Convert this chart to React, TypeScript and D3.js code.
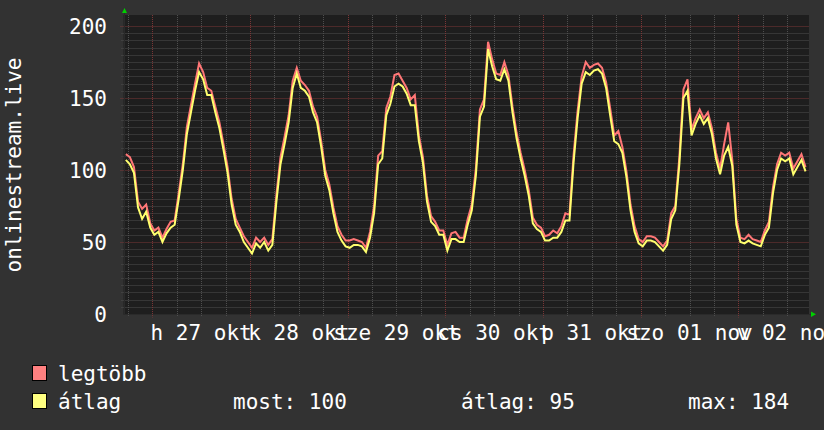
import React from "react";
import * as d3 from "d3";

// hours relative to Mon 27 Oct 00:00, sampled hourly starting at -6.5h
const startHour = -6.5;
const avgValues = [
  107, 104, 98, 74, 66, 71, 60,
  55, 57, 50, 56, 60, 62, 80, 100, 125, 140, 155, 168, 163, 152, 152, 140, 129, 114, 98, 76, 62, 57, 50, 46,
  42, 49, 46, 50, 44, 48, 78, 104, 118, 133, 157, 167, 157, 155, 151, 140, 133, 116, 96, 86, 70, 57, 51, 47,
  46, 48, 48, 47, 43, 53, 70, 104, 108, 138, 146, 158, 160, 158, 153, 145, 145, 120, 105, 78, 64, 61, 55, 55,
  44, 52, 52, 50, 50, 62, 72, 96, 137, 144, 184, 172, 163, 162, 170, 162, 140, 122, 108, 96, 82, 63, 59, 57,
  51, 51, 53, 53, 57, 65, 65, 105, 136, 160, 168, 166, 169, 170, 167, 157, 138, 120, 118, 112, 95, 72, 57, 49,
  47, 51, 51, 50, 47, 44, 48, 66, 72, 104, 150, 155, 124, 132, 138, 132, 136, 125, 108, 97, 110, 116, 103, 62,
  50, 49, 51, 49, 48, 47, 55, 60, 84, 100, 108, 106, 108, 97, 102, 107, 99,
];
const maxValues = [
  111, 109, 102, 78, 73, 76, 63,
  58, 60, 53, 59, 64, 65, 84, 104, 130, 145, 160, 174, 168, 157, 155, 144, 133, 118, 102, 80, 66, 60, 54, 50,
  46, 53, 50, 53, 48, 52, 83, 109, 123, 138, 162, 171, 162, 159, 155, 144, 137, 120, 100, 90, 74, 61, 55, 51,
  51, 52, 51, 50, 46, 57, 75, 110, 113, 143, 151, 166, 167, 162, 157, 149, 152, 124, 109, 82, 68, 64, 58, 58,
  48, 56, 57, 53, 53, 66, 76, 101, 142, 149, 189, 177, 167, 166, 175, 166, 144, 126, 112, 100, 86, 67, 62, 60,
  54, 55, 58, 56, 61, 70, 69, 110, 141, 165, 175, 171, 173, 174, 171, 161, 143, 124, 127, 116, 99, 76, 61, 52,
  50, 54, 54, 53, 50, 47, 51, 70, 75, 109, 156, 163, 128, 136, 142, 136, 140, 129, 112, 101, 118, 133, 107, 66,
  53, 52, 55, 52, 51, 50, 58, 64, 88, 104, 112, 110, 112, 101, 106, 111, 102,
];
const dayLabels = ["h 27 okt", "k 28 okt", "sze 29 okt", "cs 30 okt", "p 31 okt", "szo 01 nov", "v 02 nov"];
const yTicks = [0, 50, 100, 150, 200];
const yTitle = "onlinestream.live";
const seriesNames = ["legtöbb", "átlag"];
const statLabels = ["most: 100", "átlag: 95", "max: 184"];

const W = 824;
const H = 430;
const FONT = "'DejaVu Sans Mono', monospace";

export default function App() {
  const x = d3.scaleLinear().domain([-6.8, 161.4]).range([124.6, 809.2]);
  const y = d3.scaleLinear().domain([0, 200]).range([314, 26]);
  const left = 123.5;
  const right = 809;
  const top = 15;
  const bottom = 314.5;

  const pts = (vals: number[]) => vals.map((v, i) => [startHour + i, v] as [number, number]);
  const line = d3
    .line<[number, number]>()
    .x((d) => x(d[0]))
    .y((d) => y(d[1]));

  const minorY = d3.range(5, 200, 5).filter((v) => v % 50 !== 0);
  const majorY = [50, 100, 150, 200];
  const vTicks = d3.range(-6, 162, 6);
  const minorX = vTicks.filter((h) => h % 24 !== 0);
  const majorX = vTicks.filter((h) => h % 24 === 0);

  return (
    <svg
      width={W}
      height={H}
      style={{ position: "absolute", left: 0, top: 0, display: "block" }}
      fontFamily={FONT}
    >
      <rect x={0} y={0} width={W} height={H} fill="#323232" />
      <rect x={left} y={top} width={right - left} height={bottom - top} fill="#1e1e1e" />

      {minorY.map((v) => (
        <line
          key={"my" + v}
          x1={left - 2}
          x2={right}
          y1={Math.round(y(v)) + 0.5}
          y2={Math.round(y(v)) + 0.5}
          stroke="#4e4e4e"
          strokeDasharray="1 1"
        />
      ))}
      {minorX.map((h) => (
        <line
          key={"mx" + h}
          x1={Math.round(x(h)) + 0.5}
          x2={Math.round(x(h)) + 0.5}
          y1={top}
          y2={bottom + 2}
          stroke="#4e4e4e"
          strokeDasharray="1 1"
        />
      ))}
      {majorY.map((v) => (
        <line
          key={"My" + v}
          x1={left - 3}
          x2={right}
          y1={Math.round(y(v)) + 0.5}
          y2={Math.round(y(v)) + 0.5}
          stroke="#7a3636"
          strokeDasharray="1 1"
        />
      ))}
      {majorX.map((h) => (
        <line
          key={"Mx" + h}
          x1={Math.round(x(h)) + 0.5}
          x2={Math.round(x(h)) + 0.5}
          y1={top}
          y2={bottom + 3}
          stroke="#7a3636"
          strokeDasharray="1 1"
        />
      ))}

      {/* axes */}
      <line x1={124.5} x2={124.5} y1={12} y2={bottom} stroke="#2a2a2a" />
      <line x1={left} x2={812} y1={314.5} y2={314.5} stroke="#2a2a2a" />
      <path d="M122,13 L127,13 L124.5,8 Z" fill="#00d000" />
      <path d="M811,311.5 L811,317 L816,314.25 Z" fill="#00d000" />

      <path d={line(pts(maxValues)) || ""} fill="none" stroke="#ff7676" strokeWidth={2} strokeLinejoin="miter" />
      <path d={line(pts(avgValues)) || ""} fill="none" stroke="#ffff6e" strokeWidth={2} strokeLinejoin="miter" />

      {yTicks.map((v) => (
        <text key={"yl" + v} x={107} y={y(v) + 7.6} textAnchor="end" fill="#ffffff" fontSize={21}>
          {v}
        </text>
      ))}
      {dayLabels.map((lab, i) => (
        <text key={"xl" + i} x={x(12 + 24 * i)} y={339.5} textAnchor="middle" fill="#ffffff" fontSize={21}>
          {lab}
        </text>
      ))}
      <text
        transform={`translate(21,165) rotate(-90)`}
        textAnchor="middle"
        fill="#ffffff"
        fontSize={21}
      >
        {yTitle}
      </text>

      {/* legend */}
      <rect x={32.5} y={365.5} width={14} height={15} fill="#ff8080" stroke="#000" />
      <rect x={32.5} y={393.5} width={14} height={15} fill="#ffff80" stroke="#000" />
      <text x={58} y={381} fill="#ffffff" fontSize={21}>
        {seriesNames[0]}
      </text>
      <text x={58} y={409} fill="#ffffff" fontSize={21}>
        {seriesNames[1]}
      </text>
      {statLabels.map((s, i) => (
        <text key={"st" + i} x={[233, 461, 688][i]} y={409} fill="#ffffff" fontSize={21}>
          {s}
        </text>
      ))}
    </svg>
  );
}
